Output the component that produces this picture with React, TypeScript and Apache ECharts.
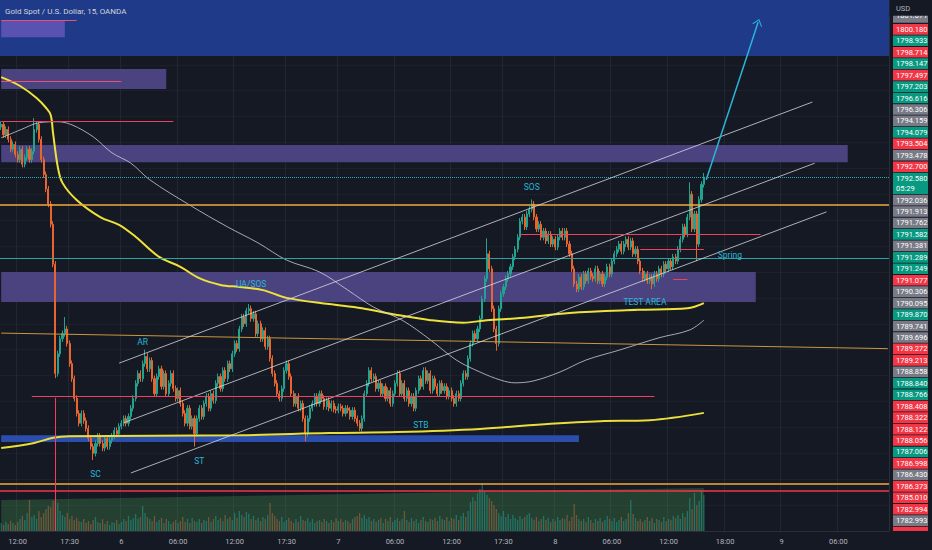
import React, { useEffect, useRef } from "react";
import * as echarts from "echarts";

const TITLE = "Gold Spot / U.S. Dollar, 15, OANDA";
const CURRENCY = "USD";
const COUNTDOWN = "05:29";

// 15-minute closes (XAUUSD)
const CLOSES: number[] = [
  1793.60, 1793.40, 1793.50, 1793.31, 1793.12, 1793.21, 1793.02, 1792.92, 1793.12, 1792.83,
  1792.96, 1793.12, 1792.92, 1793.08, 1793.50, 1793.60, 1793.31, 1792.92, 1792.63, 1792.35,
  1792.06, 1791.67, 1790.90, 1788.79, 1789.17, 1789.46, 1789.56, 1789.65, 1789.37, 1788.98,
  1788.69, 1788.31, 1788.02, 1787.83, 1788.02, 1787.88, 1787.73, 1787.54, 1787.38, 1787.25,
  1787.44, 1787.58, 1787.44, 1787.35, 1787.54, 1787.38, 1787.50,
  1787.58, 1787.69, 1787.62, 1787.77,
  1787.83, 1787.92, 1787.83, 1787.96, 1788.12, 1788.31, 1788.60, 1788.79, 1788.69, 1788.98,
  1789.12, 1788.88, 1789.04, 1788.69, 1788.40, 1788.73, 1788.88, 1788.54, 1788.79, 1788.40,
  1788.60, 1788.79, 1788.50, 1788.31, 1788.46, 1788.21, 1788.02, 1787.83, 1788.12, 1787.77,
  1787.92, 1787.63, 1787.92, 1788.12, 1787.96, 1788.21, 1788.35, 1788.12, 1788.40, 1788.27,
  1788.60, 1788.73, 1788.50, 1788.85, 1788.69, 1788.98, 1788.88, 1789.17, 1789.37, 1789.27,
  1789.65, 1789.88, 1789.75, 1790.00, 1790.04, 1789.85, 1789.94, 1789.56, 1789.75, 1789.46,
  1789.62, 1789.31, 1789.46, 1789.08, 1788.79, 1788.60, 1788.40, 1788.31, 1788.50, 1788.85,
  1788.98, 1788.73, 1788.40, 1788.21, 1788.35, 1788.12, 1788.21, 1787.92, 1787.63, 1787.92,
  1788.12, 1788.21, 1788.35, 1788.21, 1788.40, 1788.31, 1788.15, 1788.27, 1788.12, 1788.21,
  1788.10,
  1788.08, 1788.15, 1788.12, 1788.02, 1788.12, 1788.08, 1787.96, 1788.08, 1787.92, 1787.83,
  1787.73, 1787.92, 1788.40, 1788.60, 1788.85, 1788.69, 1788.73, 1788.50, 1788.60, 1788.40,
  1788.54, 1788.31, 1788.46, 1788.21, 1788.40, 1788.60, 1788.79, 1788.40, 1788.60, 1788.31,
  1788.46, 1788.21, 1788.35, 1788.12, 1788.46, 1788.69, 1788.54, 1788.85, 1788.65, 1788.79,
  1788.46, 1788.69, 1788.54, 1788.40, 1788.60, 1788.46, 1788.54, 1788.35, 1788.46, 1788.31,
  1788.21, 1788.40, 1788.31, 1788.60, 1788.79, 1788.73, 1789.08, 1789.37, 1789.56, 1789.46,
  1789.65, 1789.85, 1790.23, 1790.62, 1791.10, 1790.81, 1790.04, 1789.65, 1789.37, 1790.04,
  1790.33, 1790.46, 1790.62, 1790.71, 1790.85, 1791.04, 1791.19, 1791.42, 1791.73, 1791.81,
  1791.62, 1791.87, 1791.96, 1792.06, 1791.81, 1791.58, 1791.67, 1791.42, 1791.54, 1791.35,
  1791.48, 1791.29, 1791.38, 1791.23, 1791.42, 1791.54, 1791.42, 1791.54, 1791.29, 1791.10,
  1790.81, 1790.52, 1790.42, 1790.65, 1790.46, 1790.71, 1790.58, 1790.77,
  1790.66,
  1790.62, 1790.81, 1790.58, 1790.71, 1790.52, 1790.65, 1790.85, 1790.71, 1790.96, 1791.10,
  1791.19, 1791.29,
  1791.15, 1791.29, 1791.38, 1791.23, 1791.35, 1791.10, 1791.19, 1790.96, 1790.77, 1790.62,
  1790.71, 1790.58, 1790.65, 1790.52, 1790.71, 1790.62, 1790.81, 1790.71, 1790.90, 1790.81,
  1790.96, 1790.85, 1791.04, 1790.96, 1791.19, 1791.38, 1791.62, 1791.48, 1791.81, 1792.25,
  1791.58, 1791.87, 1791.29, 1792.15, 1792.44, 1792.58,
];
const FIRST_OPEN = 1793.55;
const WICK = 0.06;
const WICK_HIGHS: [number, number][] = [
  [14, 1793.72], [27, 1789.88], [61, 1789.25], [105, 1790.13], [206, 1791.4],
  [225, 1792.15], [292, 1792.48], [298, 1792.66],
];
const WICK_LOWS: [number, number][] = [
  [23, 1788.7], [39, 1787.12], [82, 1787.38], [129, 1787.48], [152, 1787.68],
  [210, 1789.23], [276, 1790.42], [295, 1790.96],
];

const VOLUMES: number[] = [
  8, 6, 9, 7, 10, 8, 6, 9,
  12, 15, 11, 18, 31, 14,
  16, 12, 20, 14, 18, 22, 25, 24,
  30, 31, 28, 20,
  16, 14, 18, 12, 15, 11, 13, 10, 9, 12,
  8, 10, 7, 11, 14, 9, 8, 12, 7, 10, 6, 9, 8, 11, 7,
  9, 12, 10, 15, 11, 13, 17, 12, 14,
  25, 18, 14,
  12, 10, 15, 9, 11, 13, 8, 12, 10, 7, 9, 11, 8, 10, 14, 9, 12, 8,
  13, 10, 9, 12, 8, 11, 10, 14, 9, 12, 15, 11, 13, 10, 16, 12, 14, 11, 18, 13,
  20, 16, 14, 19, 17, 12, 15, 11, 13, 10, 14, 12, 16,
  28, 18, 15,
  12, 10, 14, 9, 11, 13, 10, 8, 12, 9, 15, 11, 10, 13, 9, 12, 8, 10, 11, 9,
  12, 10, 8, 11, 9, 13, 10, 12, 9, 11, 10, 8, 12, 14,
  15, 18, 13, 16, 12, 14,
  10, 12, 9, 11, 13, 8, 12, 10, 14, 9, 11, 13, 10, 12, 20, 11, 9, 13, 10, 12,
  8, 11, 14, 10, 9, 12, 11, 13, 10, 15, 12, 11, 14, 10, 13, 12, 16, 11, 15, 18, 14, 20,
  29, 34, 30, 38, 42, 48, 40, 36, 33, 30, 26, 22,
  18, 15, 20, 14, 17, 12, 16, 13, 11, 15, 12, 14, 16, 18, 13, 11, 14, 10, 12, 15,
  11, 13, 9, 12, 10, 14, 11, 13, 12, 16, 10, 14,
  27, 16, 12,
  10, 12, 9, 14, 11, 8, 12, 10, 13, 9, 11, 15, 12, 10, 13, 9, 11, 14, 10, 12, 18,
  31, 17, 13,
  10, 12, 9, 11, 14, 10, 13, 8, 12, 11, 9, 14, 10, 12, 11, 15, 13, 16, 12, 18, 14, 20,
  33, 22, 38, 26, 30, 39, 36,
];
const VOLUME_BACKDROP: [number, number][] = [[0, 31], [298, 43]];

// moving averages: [bar index, price] knots
const MA_UPPER: [number, number][] = [
  [0, 1794.51], [8, 1794.34], [15, 1794.11], [19, 1793.92], [21, 1793.78], [22, 1793.43],
  [24, 1792.78], [26, 1792.47], [32, 1792.14], [42, 1791.81], [50, 1791.66], [57, 1791.43],
  [67, 1791.04], [76, 1790.85], [84, 1790.63], [93, 1790.5], [101, 1790.46], [111, 1790.4],
  [121, 1790.25], [139, 1790.13], [153, 1790.05], [168, 1789.92], [182, 1789.82], [196, 1789.77],
  [206, 1789.82], [220, 1789.86], [241, 1789.96], [270, 1790.02], [291, 1790.05], [298, 1790.15],
];
const MA_GREY: [number, number][] = [
  [0, 1793.34], [8, 1793.49], [16, 1793.63], [24, 1793.65], [30, 1793.59], [39, 1793.36],
  [47, 1793.05], [55, 1792.85], [63, 1792.53], [80, 1792.04], [96, 1791.62], [109, 1791.31],
  [121, 1790.98], [135, 1790.75], [147, 1790.4], [158, 1790.07], [170, 1789.82], [182, 1789.44],
  [193, 1789.05], [203, 1788.82], [212, 1788.66], [218, 1788.61], [226, 1788.65], [237, 1788.82],
  [248, 1789.05], [262, 1789.24], [279, 1789.48], [292, 1789.63], [298, 1789.82],
];
const MA_LOWER: [number, number][] = [
  [0, 1787.35], [14, 1787.45], [22, 1787.55], [29, 1787.58], [101, 1787.6], [139, 1787.64],
  [168, 1787.66], [203, 1787.72], [233, 1787.82], [254, 1787.87], [275, 1787.89], [298, 1788.03],
];

// drawn levels and objects (bar index, price)
const LEVEL_LAST = 1792.58;
const LEVEL_RESIST = 1792.036;
const LEVEL_TEAL = 1791.02;
const LEVEL_ORANGE_LOW = 1786.67;
const LEVEL_RED_LOW = 1786.53;
const SLOPED_ORANGE: [number, number][] = [[0, 1789.57], [376, 1789.27]];
const CHANNELS: [number, number][][] = [
  [[50, 1788.99], [344, 1794.03]],
  [[52, 1787.84], [345, 1792.85]],
  [[55, 1786.87], [350, 1791.91]],
];
const RED_SEGMENTS: [number, number][][] = [
  [[0, 1793.66], [73, 1793.66]],
  [[13, 1788.36], [277, 1788.36]],
  [[220, 1791.48], [322, 1791.48]],
  [[271, 1791.19], [298, 1791.19]],
  [[285, 1790.61], [291, 1790.61]],
  [[23, 1788.32], [23, 1785.75]],
];
const PINK_SEGMENTS: [number, number][][] = [
  [[0, 1795.6], [32, 1795.6]],
  [[0, 1794.44], [51, 1794.44]],
];
const TARGET_ARROW: [number, number][] = [[299, 1792.53], [321, 1795.57]];
const BLUE_ZONE: [number, number] = [1796, 1794.92];
const PURPLE_LIGHT_BOX: [number, number][] = [[0, 1795.6], [27, 1795.28]];
const PURPLE_BOXES: [number, number][][] = [
  [[0, 1794.67], [70, 1794.28]],
  [[0, 1793.2], [359, 1792.87]],
  [[0, 1790.75], [320, 1790.17]],
];
const BLUE_SUPPORT: [number, number][] = [[0, 1787.6], [245, 1787.47]];

const ANNOTATIONS: [string, number, number][] = [
  ["SC", 40, 1786.85], ["AR", 60, 1789.4], ["ST", 84, 1787.1], ["UA/SOS", 106, 1790.52],
  ["SOS", 225, 1792.39], ["STB", 178, 1787.8], ["TEST AREA", 273, 1790.17], ["Spring", 309, 1791.08],
];

const PRICE_TAGS: [string, string][] = [
  ["1800.180", "r"], ["1798.933", "g"], ["1798.714", "r"], ["1798.147", "g"], ["1797.497", "r"],
  ["1797.203", "g"], ["1796.616", "g"], ["1796.306", "n"], ["1794.159", "n"], ["1794.079", "g"],
  ["1793.504", "r"], ["1793.478", "n"], ["1792.700", "r"], ["1792.580", "g"], ["1792.036", "n"],
  ["1791.913", "n"], ["1791.762", "n"], ["1791.582", "g"], ["1791.381", "n"], ["1791.289", "g"],
  ["1791.249", "g"], ["1791.077", "r"], ["1790.306", "n"], ["1790.095", "n"], ["1789.870", "g"],
  ["1789.741", "n"], ["1789.696", "n"], ["1789.272", "r"], ["1789.213", "r"], ["1788.858", "n"],
  ["1788.840", "g"], ["1788.766", "g"], ["1788.408", "r"], ["1788.322", "r"], ["1788.122", "r"],
  ["1788.056", "r"], ["1787.006", "g"], ["1786.998", "r"], ["1786.430", "n"], ["1786.373", "r"],
  ["1785.010", "r"], ["1782.994", "r"], ["1782.993", "n"],
];
const HIDDEN_TAG = "1801.071";

const TICK_LABELS: Record<string, string> = {
  "5 12:00": "12:00", "5 17:30": "17:30", "6 00:00": "6", "6 06:00": "06:00",
  "6 12:00": "12:00", "6 17:30": "17:30", "7 00:00": "7", "7 06:00": "06:00",
  "7 12:00": "12:00", "7 17:30": "17:30", "8 00:00": "8", "8 06:00": "06:00",
  "8 12:00": "12:00", "8 18:00": "18:00", "9 00:00": "9", "9 06:00": "06:00",
};
const CATEGORY_COUNT = 377;

const FONT = "Roboto, 'Noto Sans', sans-serif";
const BG = "#151924";
const UP = "#22a38e";
const DOWN = "#e8652e";
const CYAN = "#29b6d6";

function buildCategories(): string[] {
  const cats: string[] = [];
  let day = 5;
  let min = 10 * 60 + 15;
  while (cats.length < CATEGORY_COUNT) {
    const h = Math.floor(min / 60);
    const m = min % 60;
    if (!(h === 21 && day < 8)) {
      cats.push(`${day} ${String(h).padStart(2, "0")}:${String(m).padStart(2, "0")}`);
    }
    min += 15;
    if (min >= 24 * 60) {
      min = 0;
      day += 1;
    }
  }
  return cats;
}

function buildCandles() {
  const highs = new Map(WICK_HIGHS);
  const lows = new Map(WICK_LOWS);
  return CLOSES.map((c, i) => {
    const o = i === 0 ? FIRST_OPEN : CLOSES[i - 1];
    const hi = highs.has(i) ? (highs.get(i) as number) : Math.max(o, c) + WICK;
    const lo = lows.has(i) ? (lows.get(i) as number) : Math.min(o, c) - WICK;
    return [o, c, lo, hi];
  });
}

function buildTags() {
  const els: any[] = [];
  const step = 11.45;
  const colors: Record<string, string> = { r: "#f23645", g: "#089981", n: "#787b86" };
  // hidden top tag, partly covered by the header
  els.push({ type: "rect", z: 100, shape: { x: 893, y: 10.5, width: 35, height: 12.3 }, style: { fill: "#787b86" } });
  els.push({ type: "text", z: 101, x: 896, y: 15.5, style: { text: HIDDEN_TAG, fill: "#ffffff", fontSize: 7.5, fontFamily: FONT, verticalAlign: "middle", align: "left" } });
  els.push({ type: "rect", z: 102, shape: { x: 889.5, y: 0, width: 43, height: 15.8 }, style: { fill: BG } });
  els.push({ type: "text", z: 103, x: 896, y: 8, style: { text: CURRENCY, fill: "#b2b5be", fontSize: 7.5, fontFamily: FONT, verticalAlign: "middle", align: "left" } });
  let top = 23.6;
  PRICE_TAGS.forEach(([txt, c], k) => {
    const tall = txt === "1792.580" && k === 13;
    const h = tall ? 21.9 : step;
    els.push({ type: "rect", z: 100, shape: { x: 893, y: top + 0.4, width: 35, height: h - 0.8 }, style: { fill: colors[c] } });
    els.push({ type: "text", z: 101, x: 896, y: top + step / 2, style: { text: txt, fill: "#ffffff", fontSize: 7.5, fontFamily: FONT, verticalAlign: "middle", align: "left" } });
    if (tall) {
      els.push({ type: "text", z: 101, x: 896, y: top + step / 2 + 10, style: { text: COUNTDOWN, fill: "#ffffff", fontSize: 7.5, fontFamily: FONT, verticalAlign: "middle", align: "left" } });
    }
    top += h;
  });
  els.push({ type: "rect", z: 100, shape: { x: 893, y: top + 0.4, width: 35, height: 531 - top - 0.4 }, style: { fill: "#f23645" } });
  return els;
}

export default function App() {
  const ref = useRef<HTMLDivElement>(null);
  useEffect(() => {
    if (!ref.current) return;
    const chart = echarts.init(ref.current, undefined, { renderer: "svg" });
    const cats = buildCategories();
    const candles = buildCandles();
    const showTick = (_i: number, v: string) => v in TICK_LABELS;
    const seg = (pts: [number, number][], style: any) => [
      { coord: pts[0], lineStyle: style },
      { coord: pts[1] },
    ];
    const box = (pts: [number, number][], color: string) => [
      { coord: pts[0], itemStyle: { color } },
      { coord: pts[1] },
    ];
    const redStyle = { color: "#f0405c", width: 1, type: "solid" };
    const chanStyle = { color: "rgba(225,225,232,0.75)", width: 1, type: "solid" };

    const option: any = {
      animation: false,
      backgroundColor: BG,
      textStyle: { fontFamily: FONT },
      grid: [
        { left: 0, right: 43, top: 0, bottom: 19 },
        { left: 0, right: 43, top: 431, bottom: 19 },
      ],
      xAxis: [
        {
          type: "category", data: cats, boundaryGap: true, gridIndex: 0,
          axisLine: { show: true, lineStyle: { color: "#2a2e39" } },
          axisTick: { show: false },
          axisLabel: { interval: showTick, formatter: (v: string) => TICK_LABELS[v] || "", color: "#b2b5be", fontSize: 7.5, margin: 6, fontFamily: FONT },
          splitLine: { show: true, interval: showTick, lineStyle: { color: "rgba(42,46,57,0.6)", width: 1 } },
        },
        { type: "category", data: cats, boundaryGap: true, gridIndex: 1, show: false },
      ],
      yAxis: [
        {
          type: "value", position: "right", min: 1785.75, max: 1796, interval: 0.5, gridIndex: 0,
          axisLabel: { show: false }, axisTick: { show: false },
          axisLine: { show: true, lineStyle: { color: "#2a2e39" } },
          splitLine: { show: true, lineStyle: { color: "rgba(42,46,57,0.35)" } },
        },
        { type: "value", gridIndex: 1, min: 0, max: 100, show: false, splitLine: { show: false } },
      ],
      series: [
        {
          name: "zones", type: "line", data: [], z: 1, silent: true,
          markArea: {
            silent: true,
            data: [
              [{ yAxis: BLUE_ZONE[0], itemStyle: { color: "#1f3a88" } }, { yAxis: BLUE_ZONE[1] }],
              box(PURPLE_LIGHT_BOX, "#5a52b0"),
              ...PURPLE_BOXES.map((b) => box(b, "#4b4380")),
              box(BLUE_SUPPORT, "#2b4dab"),
            ],
          },
        },
        {
          name: "volBackdrop", type: "line", xAxisIndex: 1, yAxisIndex: 1, data: VOLUME_BACKDROP,
          showSymbol: false, lineStyle: { width: 0 }, areaStyle: { color: "rgba(70,160,80,0.42)" }, z: 1, silent: true,
        },
        {
          name: "volume", type: "bar", xAxisIndex: 1, yAxisIndex: 1, barWidth: 1.3, z: 2, silent: true,
          data: VOLUMES.map((v, i) => ({
            value: v,
            itemStyle: { color: candles[i][1] >= candles[i][0] ? "rgba(38,166,154,0.5)" : "rgba(205,115,70,0.45)" },
          })),
        },
        {
          name: "XAUUSD", type: "candlestick", data: candles, barWidth: 1.6, z: 3, silent: true,
          itemStyle: { color: UP, color0: DOWN, borderColor: UP, borderColor0: DOWN, borderWidth: 1 },
        },
        { name: "maUpper", type: "line", data: MA_UPPER, smooth: 0.35, showSymbol: false, z: 4, silent: true, lineStyle: { color: "#efe23a", width: 2 } },
        { name: "maGrey", type: "line", data: MA_GREY, smooth: 0.35, showSymbol: false, z: 4, silent: true, lineStyle: { color: "rgba(215,215,225,0.75)", width: 1 } },
        { name: "maLower", type: "line", data: MA_LOWER, smooth: 0.35, showSymbol: false, z: 4, silent: true, lineStyle: { color: "#e9de3a", width: 2 } },
        {
          name: "drawings", type: "line", data: [], z: 5, silent: true,
          markLine: {
            silent: true, symbol: "none", label: { show: false },
            data: [
              { yAxis: LEVEL_LAST, lineStyle: { color: "#2fa9b0", width: 1, type: "dotted" } },
              { yAxis: LEVEL_RESIST, lineStyle: { color: "#f2a93b", width: 1.5, type: "solid" } },
              { yAxis: LEVEL_TEAL, lineStyle: { color: "#2ba3a8", width: 1, type: "solid" } },
              { yAxis: LEVEL_ORANGE_LOW, lineStyle: { color: "#f2a93b", width: 1.5, type: "solid" } },
              { yAxis: LEVEL_RED_LOW, lineStyle: { color: "#f23645", width: 1.5, type: "solid" } },
              seg(SLOPED_ORANGE, { color: "#c9973e", width: 1, type: "solid" }),
              ...CHANNELS.map((c) => seg(c, chanStyle)),
              ...RED_SEGMENTS.map((c) => seg(c, redStyle)),
              ...PINK_SEGMENTS.map((c) => seg(c, { color: "#ea4f74", width: 1, type: "solid" })),
              [
                { coord: TARGET_ARROW[0], symbol: "none", lineStyle: { color: CYAN, width: 1.5, type: "solid" } },
                { coord: TARGET_ARROW[1], symbol: "path://M0,0 L10,12 L8.6,13.4 L0,3 L-8.6,13.4 L-10,12 Z", symbolSize: [10, 7] },
              ],
            ],
          },
        },
        {
          name: "labels", type: "line", data: [], z: 6, silent: true,
          markPoint: {
            silent: true, symbol: "circle", symbolSize: 0,
            label: { show: true, position: "inside", color: CYAN, fontSize: 8.5, fontFamily: FONT, formatter: (p: any) => p.name },
            data: ANNOTATIONS.map(([t, j, p]) => ({ name: t, coord: [j, p], value: p })),
          },
        },
      ],
      graphic: [
        { type: "text", z: 100, x: 5, y: 11, style: { text: TITLE, fill: "#d1d4dc", fontSize: 8, fontFamily: FONT, verticalAlign: "middle", align: "left" } },
        ...buildTags(),
      ],
    };
    chart.setOption(option);
    return () => chart.dispose();
  }, []);
  return <div ref={ref} style={{ position: "fixed", left: 0, top: 0, width: 932, height: 550 }} />;
}
